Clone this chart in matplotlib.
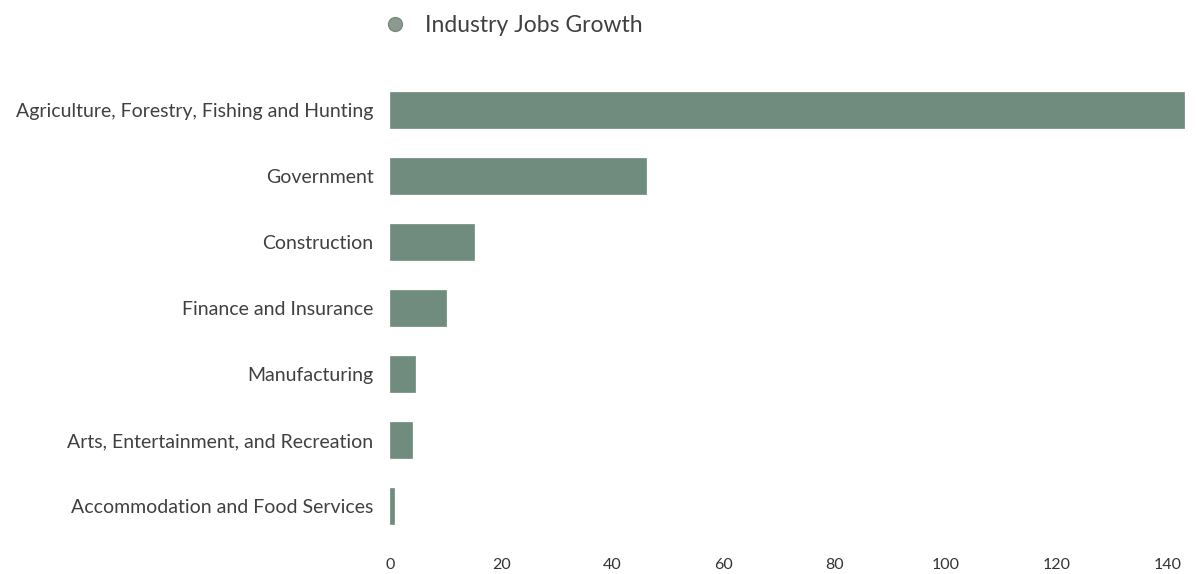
import matplotlib.pyplot as plt
from matplotlib.lines import Line2D

plt.rcParams['font.family'] = ['Lato', 'DejaVu Sans']

industries = ['Agriculture, Forestry, Fishing and Hunting', 'Government', 'Construction',
              'Finance and Insurance', 'Manufacturing', 'Arts, Entertainment, and Recreation',
              'Accommodation and Food Services']
growth = [143, 46, 15, 10, 4.5, 4, 0.7]
xticks = [0, 20, 40, 60, 80, 100, 120, 140]

bar_color = '#6f8c7e'

fig = plt.figure(figsize=(11.97, 5.74), dpi=100)
ax = fig.add_axes([0.326, 0.061, 0.668, 0.805])

y = list(range(len(industries)))
ax.barh(y, growth, height=0.55, color=bar_color, edgecolor=bar_color, linewidth=0.5)
ax.set_yticks(y)
ax.set_yticklabels(industries, fontsize=14, color='#404040')
ax.set_ylim(len(industries) - 0.5, -0.5)
ax.set_xlim(0, 144)
ax.set_xticks(xticks)
ax.set_xticklabels([str(t) for t in xticks], fontsize=11.5, color='#333333')
ax.tick_params(length=0, axis='y', pad=12)
ax.tick_params(length=0, axis='x', pad=14)
for s in ax.spines.values():
    s.set_visible(False)

handle = Line2D([], [], marker='o', linestyle='none', markersize=10,
                markerfacecolor='#8a9a8c', markeredgecolor='#7a8a7c')
fig.legend([handle], ['Industry Jobs Growth'], loc='upper center',
           bbox_to_anchor=(0.424, 1.01), frameon=False, fontsize=16.5,
           handletextpad=0.3, labelcolor='#404040')

fig.savefig('out.png', dpi=100)
